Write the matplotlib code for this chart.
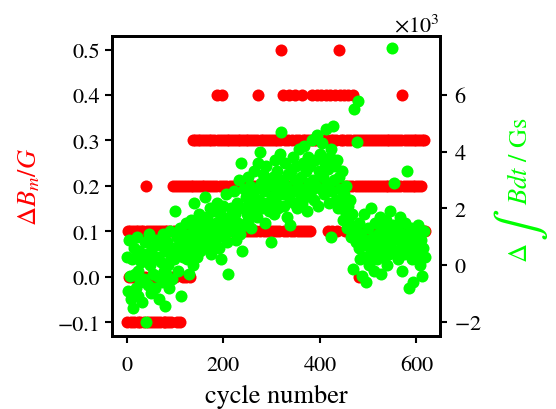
import numpy as np
import matplotlib
matplotlib.use('Agg')
import matplotlib.pyplot as plt
from matplotlib.ticker import ScalarFormatter

plt.rcParams['font.family'] = 'STIXGeneral'
plt.rcParams['mathtext.fontset'] = 'stix'

# cycle number (every second cycle)
cycles = np.arange(0, 620, 2)

# Delta B_m in G (quantized to 0.1)
dbm = [
    -0.1, 0.1, 0.0, 0.1, -0.1, 0.0, 0.1, -0.1, 0.0, 0.1,
    0.0, -0.1, 0.1, 0.0, -0.1, 0.1, 0.0, 0.1, -0.1, 0.0,
    0.2, 0.1, -0.1, 0.0, 0.1, -0.1, 0.0, 0.1, -0.1, 0.0,
    0.1, -0.1, 0.0, 0.1, -0.1, 0.0, 0.1, 0.0, -0.1, 0.1,
    -0.1, 0.0, 0.1, -0.1, 0.0, 0.1, -0.1, 0.0, 0.2, 0.1,
    0.0, 0.2, -0.1, 0.1, 0.2, -0.1, 0.1, 0.2, 0.0, 0.1,
    0.2, 0.0, 0.1, 0.2, 0.1, 0.0, 0.2, 0.1, 0.2, 0.3,
    0.1, 0.3, 0.2, 0.1, 0.3, 0.2, 0.3, 0.1, 0.2, 0.3,
    0.2, 0.1, 0.3, 0.2, 0.1, 0.3, 0.2, 0.3, 0.1, 0.2,
    0.3, 0.1, 0.2, 0.4, 0.3, 0.1, 0.2, 0.3, 0.1, 0.4,
    0.2, 0.3, 0.1, 0.2, 0.3, 0.1, 0.3, 0.2, 0.1, 0.3,
    0.2, 0.1, 0.3, 0.2, 0.1, 0.3, 0.2, 0.3, 0.1, 0.2,
    0.3, 0.1, 0.2, 0.3, 0.1, 0.2, 0.3, 0.2, 0.1, 0.3,
    0.2, 0.1, 0.3, 0.2, 0.1, 0.3, 0.4, 0.2, 0.1, 0.3,
    0.2, 0.3, 0.1, 0.2, 0.3, 0.1, 0.2, 0.3, 0.1, 0.2,
    0.3, 0.1, 0.2, 0.3, 0.1, 0.2, 0.3, 0.2, 0.1, 0.3,
    0.5, 0.2, 0.4, 0.1, 0.3, 0.2, 0.1, 0.3, 0.4, 0.2,
    0.1, 0.3, 0.2, 0.1, 0.4, 0.3, 0.2, 0.1, 0.3, 0.2,
    0.1, 0.4, 0.3, 0.2, 0.1, 0.3, 0.2, 0.1, 0.3, 0.2,
    0.1, 0.3, 0.4, 0.2, 0.3, 0.2, 0.3, 0.4, 0.2, 0.3,
    0.2, 0.4, 0.3, 0.2, 0.3, 0.2, 0.4, 0.3, 0.1, 0.2,
    0.4, 0.3, 0.2, 0.1, 0.3, 0.2, 0.4, 0.3, 0.1, 0.2,
    0.5, 0.4, 0.3, 0.2, 0.3, 0.4, 0.1, 0.2, 0.3, 0.4,
    0.2, 0.3, 0.1, 0.2, 0.4, 0.3, 0.1, 0.2, 0.3, 0.1,
    0.2, 0.0, 0.3, 0.1, 0.2, 0.3, 0.1, 0.2, 0.3, 0.1,
    0.2, 0.3, 0.1, 0.2, 0.3, 0.1, 0.2, 0.3, 0.1, 0.2,
    0.3, 0.1, 0.2, 0.3, 0.1, 0.2, 0.3, 0.1, 0.2, 0.3,
    0.1, 0.2, 0.3, 0.1, 0.2, 0.3, 0.1, 0.2, 0.3, 0.1,
    0.2, 0.3, 0.1, 0.2, 0.3, 0.4, 0.1, 0.2, 0.3, 0.1,
    0.2, 0.3, 0.1, 0.2, 0.3, 0.1, 0.2, 0.3, 0.1, 0.2,
    0.3, 0.1, 0.2, 0.3, 0.1, 0.2, 0.3, 0.1, 0.3, 0.1,
]

# Delta integral of B dt in Gs
dint = [
    300, -900, 900, -400, -1200, 200, -1500, 600, -300, -800,
    1000, -200, -1100, 500, -600, 100, -1300, 300, -500, 800,
    -2000, 400, -700, 1100, 0, -1000, 600, -300, 200, -800,
    900, -400, 300, -1200, 700, 100, -600, 1100, -200, -1450,
    500, -300, 800, 0, -800, 1200, 300, -500, 600, 200,
    1900, 400, 1000, -200, 700, 1300, -1100, 900, 300, 1100,
    600, 1500, 200, 1000, -300, 800, 1600, 400, 1200, 0,
    2200, 700, 1400, 300, 1000, 1800, 500, 1200, 800, 1500,
    1000, 2400, 600, 1700, 1300, 900, 2000, 400, 1400, 1100,
    1900, 700, 1500, 2200, 1000, 600, 1800, 1300, 200, 1600,
    2100, 1000, 1400, 2500, 800, -300, 1700, 1200, 2000, 1500,
    1300, 2600, 1800, 900, 2200, 1500, 3000, 1100, 3600, 500,
    2000, 2700, 1400, 2400, 1800, 3100, 1600, 2200, 2800, 1300,
    2500, 1900, 3300, 2100, 2700, 1700, 3600, 2300, 4000, 2900,
    2000, 3200, 2600, 1500, 3500, 2200, 2800, 1900, 3000, 800,
    2400, 3100, 1800, 3700, 2700, 2200, 3300, 2000, 2900, 3900,
    4700, 2500, 3000, 2100, 3600, 2800, 1700, 3200, 2400, 1400,
    3300, 2600, 3800, 2200, 3000, 3500, 2000, 2800, 4100, 2500,
    3100, 2200, 3600, 2700, 4200, 2400, 3300, 1900, 3800, 2900,
    3500, 2600, 4400, 3000, 2300, 3700, 2800, 4600, 2100, 3300,
    3900, 2700, 4300, 3100, 2500, 3600, 4800, 2900, 3400, 2200,
    3800, 1000, 4100, 2600, 4900, 3000, 3500, 2300, 3700, 2000,
    3100, 2700, 2200, 3300, 1600, 2500, 1900, 2800, 1300, 2100,
    1500, 2300, 1000, 1800, -150, 5500, 1200, 800, 4350, 5800,
    1500, 600, 200, 1100, -400, 700, 1800, 300, -600, 900,
    1300, 0, 600, 2000, 400, 1000, -200, 1500, 700, 200,
    1100, 500, 1700, -300, 800, 1300, 300, 900, 1600, 0,
    600, 1200, 400, 1900, 800, 7660, 1400, 2900, 1000, 500,
    1300, 200, 900, 1700, 600, -200, 1100, 400, 1500, 800,
    3300, 1000, -800, 600, 1300, 200, -600, 900, 1200, 400,
    1000, 700, 1400, 300, 0, 900, -400, 600, 1200, 300,
]

RED = '#ff0000'
GREEN = '#00ff00'

fig = plt.figure(figsize=(5.56, 4.10), dpi=100)
ax = fig.add_axes([0.2014, 0.178, 0.59, 0.732])
ax.scatter(cycles, dbm, s=75, color=RED, linewidths=0)
ax.set_xlabel('cycle number', fontsize=19, labelpad=6)
ax.set_ylabel(r'$\Delta B_m/G$', color=RED, fontsize=19, labelpad=11)
ax.set_xticks([0, 200, 400, 600])
ax.set_yticks([-0.1, 0.0, 0.1, 0.2, 0.3, 0.4, 0.5])
ax.tick_params(labelsize=16, width=1.5, length=5)
ax.tick_params(axis='x', pad=9)

ax2 = ax.twinx()
ax2.scatter(cycles, dint, s=75, color=GREEN, linewidths=0)
fmt = ScalarFormatter(useMathText=True)
fmt.set_powerlimits((3, 3))
ax2.yaxis.set_major_formatter(fmt)
ax2.set_yticks([-2000, 0, 2000, 4000, 6000])
ax2.set_ylim(-2500, 8080)
ax2.tick_params(labelsize=16, width=1.5, length=5, pad=5)
ax2.yaxis.get_offset_text().set_fontsize(16)

# right axis label, built in pieces for the large integral sign
W, H = 556.0, 410.0
fig.text(521 / W, 1 - 253 / H, r'$\Delta$', rotation=90, color=GREEN,
         fontsize=19, ha='center', va='center')
fig.text(521 / W, 1 - 225 / H, r'$\int$', rotation=90, color=GREEN,
         fontsize=34, ha='center', va='center')
fig.text(521 / W, 1 - 161 / H, r'$Bdt$ / Gs', rotation=90, color=GREEN,
         fontsize=19, ha='center', va='center')

for a in (ax, ax2):
    for sp in a.spines.values():
        sp.set_linewidth(2)

fig.savefig('out.png', dpi=100)
